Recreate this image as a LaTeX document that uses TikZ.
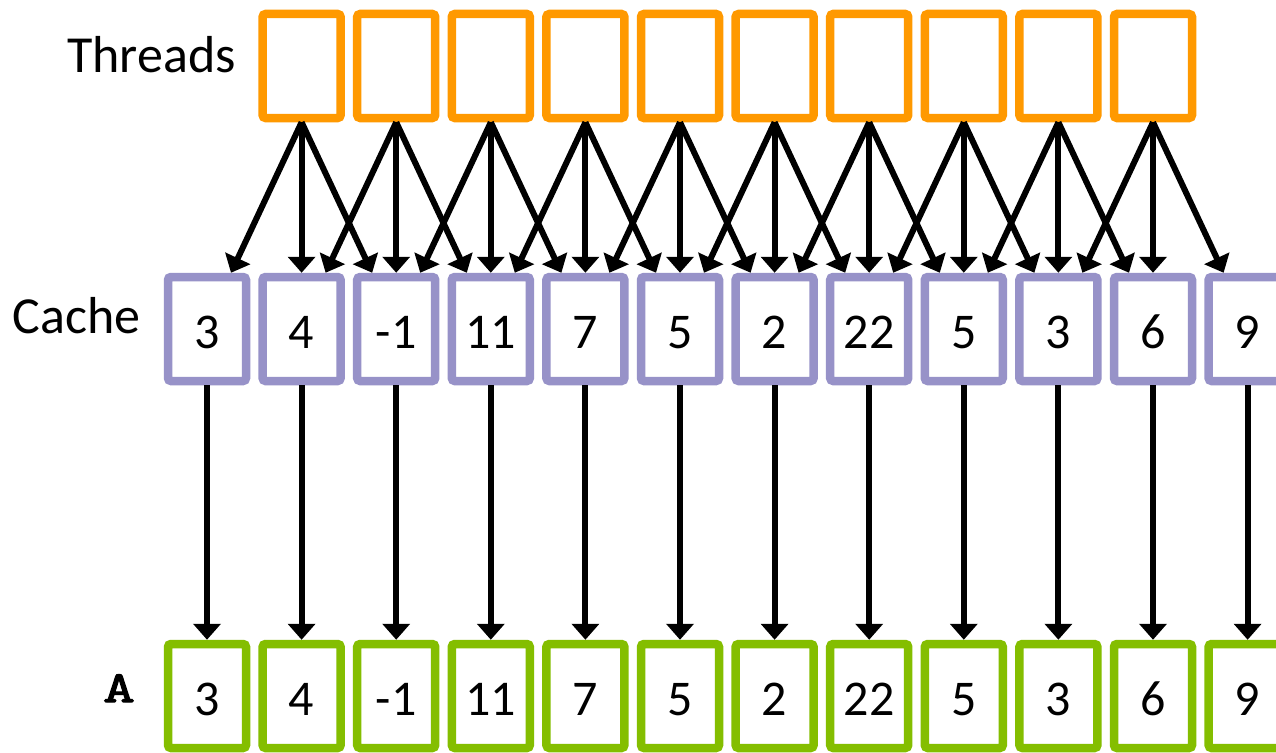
\documentclass[tikz,border=0pt]{standalone}
\usepackage{fontspec}
\setmainfont{Carlito}
\newfontfamily\courfont[FakeBold=3,FakeStretch=1.4]{Latin Modern Mono}
\usetikzlibrary{arrows.meta}
\definecolor{thr}{RGB}{255,153,0}
\definecolor{cch}{RGB}{151,146,200}
\definecolor{agr}{RGB}{132,190,0}
\begin{document}
\begin{tikzpicture}[x=1pt,y=-1pt,
  box/.style={draw, line width=8.5pt, rounded corners=3pt, minimum width=78pt, minimum height=104pt, inner sep=0pt, fill=white, text height=38pt, text depth=0pt, font=\fontsize{50}{60}\selectfont},
  tbox/.style={box, draw=thr},
  cbox/.style={box, draw=cch},
  abox/.style={box, draw=agr},
  arr/.style={line width=6pt, -{Triangle[width=27pt,length=16pt]}},
  lbl/.style={font=\fontsize{52}{62}\selectfont, anchor=base east, inner sep=0pt}]
\useasboundingbox (0,0) rectangle (1276,752);
\clip (0,0) rectangle (1276,752);
\fill[white] (0,0) rectangle (1276,752);
\foreach \v [count=\i from 0] in {3,4,-1,11,7,5,2,22,5,3,6,9} {
  \node[cbox] (c\i) at ({207+94.6*\i},329) {\v};
  \node[abox] (a\i) at ({207+94.6*\i},696) {\v};
}
\foreach \j in {0,...,9} {
  \node[tbox] (t\j) at ({301.6+94.6*\j},66) {};
}
\foreach \j in {0,...,9} {
  \pgfmathtruncatemacro\k{\j+1}
  \pgfmathtruncatemacro\m{\j+2}
  \draw[arr] (t\j.south) -- ([xshift=24pt]c\j.north);
  \draw[arr] (t\j.south) -- (c\k.north);
  \draw[arr] (t\j.south) -- ([xshift=-24pt]c\m.north);
}
\foreach \i in {0,...,11} {
  \draw[arr] (c\i.south) -- (a\i.north);
}
\node[lbl] (lt) at (236,72) {Threads};
\node[lbl] (lc) at (141,333) {Cache};
\node[font={\courfont\fontsize{44}{50}\selectfont}, anchor=base, inner sep=0pt] (la) at (119,702) {A};
\end{tikzpicture}
\end{document}
